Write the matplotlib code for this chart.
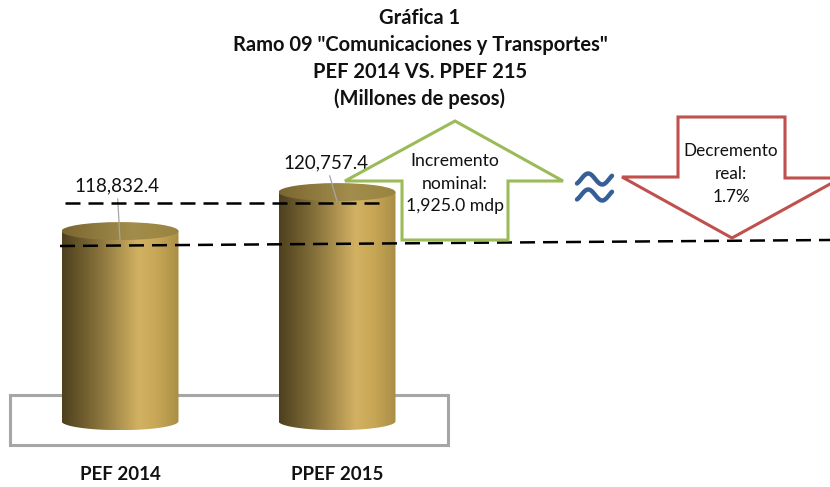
import numpy as np
import matplotlib.pyplot as plt
from matplotlib.patches import Ellipse, Polygon, Rectangle
from matplotlib.colors import LinearSegmentedColormap

plt.rcParams['font.family'] = ['Lato', 'DejaVu Sans']

# data
categories = ['PEF 2014', 'PPEF 2015']
values = [118832.4, 120757.4]
value_labels = ['118,832.4', '120,757.4']
title_lines = ['Gráfica 1', 'Ramo 09 "Comunicaciones y Transportes"',
               'PEF 2014 VS. PPEF 215', '(Millones de pesos)']
up_text = 'Incremento\nnominal:\n1,925.0 mdp'
down_text = 'Decremento\nreal:\n1.7%'

# value axis as in the original 3D chart (truncated)
y_floor = 109450
y_lim = (106200, 130240)

W, H = 830, 487
fig = plt.figure(figsize=(W / 100, H / 100), dpi=100)

floor = fig.add_axes([0, 0, 1, 1], zorder=0)
floor.set_xlim(0, W)
floor.set_ylim(H, 0)
floor.axis('off')

ax = fig.add_axes([0, 0, 1, 1], zorder=1)
ax.patch.set_alpha(0)
ax.axis('off')

ov = fig.add_axes([0, 0, 1, 1], zorder=2)
ov.patch.set_alpha(0)
ov.set_xlim(0, W)
ov.set_ylim(H, 0)
ov.axis('off')

body_cmap = LinearSegmentedColormap.from_list('body', [
    (0.0, '#4d401d'), (0.3, '#85703a'), (0.65, '#d2b163'), (0.8, '#c8a856'), (1.0, '#a88d45')])
top_cmap = LinearSegmentedColormap.from_list('top', [
    (0.0, '#7a6631'), (0.6, '#a38d4c'), (1.0, '#98833f')])

xlim = (-120 / 217, (W - 120) / 217)
upp = (y_lim[1] - y_lim[0]) / H
bar_w = 117 / 217
ry = 9 * upp
grad = np.linspace(0, 1, 256).reshape(1, -1)


def cylinder(xc, top):
    hw = bar_w / 2
    t = np.linspace(np.pi, 2 * np.pi, 80)
    xs = xc + hw * np.cos(t)
    ys = y_floor + ry * np.sin(t)
    pts = np.column_stack([np.r_[xc - hw, xs, xc + hw], np.r_[top, ys, top]])
    body = Polygon(pts, closed=True, facecolor='none', edgecolor='none')
    ax.add_patch(body)
    im = ax.imshow(grad, cmap=body_cmap, extent=(xc - hw, xc + hw, y_floor - ry, top),
                   aspect='auto', interpolation='bicubic', zorder=2)
    im.set_clip_path(body)
    cap = Ellipse((xc, top), bar_w, 2 * ry, facecolor='none', edgecolor='none')
    ax.add_patch(cap)
    im2 = ax.imshow(grad, cmap=top_cmap, extent=(xc - hw, xc + hw, top - ry, top + ry),
                    aspect='auto', interpolation='bicubic', zorder=3)
    im2.set_clip_path(cap)


for i, v in enumerate(values):
    cylinder(i, v)

ax.set_xlim(*xlim)
ax.set_ylim(*y_lim)

# value labels with leader lines
label_offsets = [(-3, 54), (-11, 38)]
for i, (v, lab) in enumerate(zip(values, value_labels)):
    ax.annotate(lab, xy=(i, v - ry), xytext=label_offsets[i], textcoords='offset pixels',
                ha='center', va='center', fontsize=13.5, color='#111111', zorder=6,
                arrowprops=dict(arrowstyle='-', color='#a6a6a6', lw=0.9,
                                shrinkA=1, shrinkB=0))
    ax.text(i, y_lim[0] + (y_lim[1] - y_lim[0]) * (1 - 475 / H), categories[i],
            ha='center', va='center', fontsize=13.5, fontweight='bold', color='#111111')

# floor
floor.add_patch(Rectangle((10, 395), 438, 50, facecolor='none', edgecolor='#a6a6a6', lw=2.2))

# reference dashed lines
ov.plot([65, 383], [203, 203], color='black', lw=1.8, linestyle=(0, (6, 3.2)))
ov.plot([60, 830], [246, 240], color='black', lw=1.8, linestyle=(0, (6, 3.2)))

# arrows
up = [(455, 121), (563, 181), (508, 181), (508, 240), (402, 240), (402, 181), (345, 181)]
ov.add_patch(Polygon(up, closed=True, facecolor='white', edgecolor='#9bbb59', lw=2.2,
                     joinstyle='miter', zorder=3))
down = [(678, 117), (785, 117), (785, 178), (841, 178), (732, 238), (622, 177), (678, 177)]
ov.add_patch(Polygon(down, closed=True, facecolor='white', edgecolor='#c0504d', lw=2.2,
                     joinstyle='miter', zorder=3, clip_on=False))
ov.text(455, 184, up_text, ha='center', va='center', fontsize=12.7, linespacing=1.5,
        color='#111111', zorder=4)
ov.text(731, 174, down_text, ha='center', va='center', fontsize=12.3, linespacing=1.55,
        color='#111111', zorder=4)

# "approximately" sign drawn as two waves
t = np.linspace(-0.15, 1.1, 60)
wx = 577 + (t + 0.15) / 1.25 * 35
for cy in (179, 195):
    ov.plot(wx, cy - 5.5 * np.sin(2 * np.pi * t), color='#365f98', lw=3.2,
            solid_capstyle='round', zorder=4)

# title
for k, line in enumerate(title_lines):
    fig.text(420 / W, 1 - (18 + 27 * k) / H, line, ha='center', va='center',
             fontsize=14.5, fontweight='bold', color='#111111')

fig.savefig('out.png', dpi=100)
